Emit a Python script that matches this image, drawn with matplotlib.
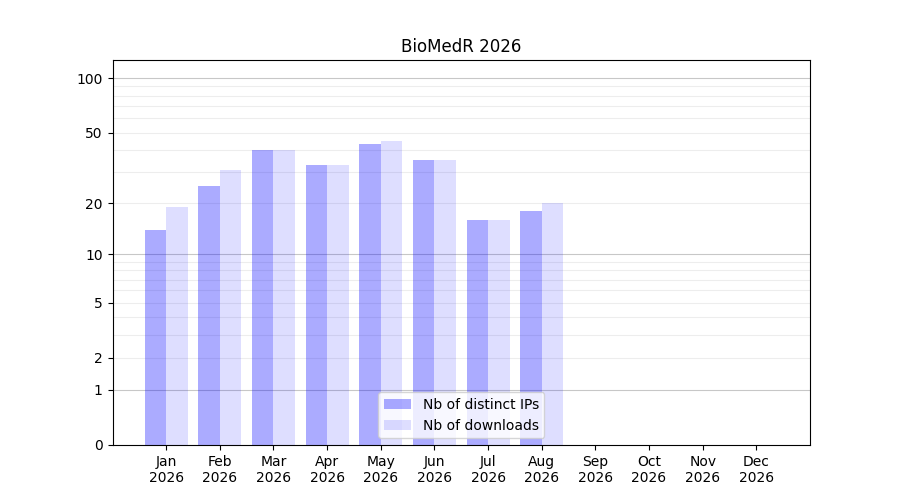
import numpy as np
import matplotlib
matplotlib.use('Agg')
import matplotlib.pyplot as plt

months = ['Jan', 'Feb', 'Mar', 'Apr', 'May', 'Jun', 'Jul', 'Aug', 'Sep', 'Oct', 'Nov', 'Dec']
year = 2026
distinct_ips = [14, 25, 40, 33, 43, 35, 16, 18, 0, 0, 0, 0]
downloads = [19, 31, 40, 33, 45, 35, 16, 20, 0, 0, 0, 0]


def fwd(v):
    return np.log10(1 + np.maximum(v, 0))


def inv(v):
    return 10 ** v - 1


fig, ax = plt.subplots(figsize=(9, 5), dpi=100)
ax.set_yscale('function', functions=(fwd, inv))

x = np.arange(1, len(months) + 1)
ax.bar(x, distinct_ips, width=-0.4, align='edge', color='blue', alpha=0.33,
       label='Nb of distinct IPs', zorder=2)
ax.bar(x, downloads, width=0.4, align='edge', color='blue', alpha=0.13,
       label='Nb of downloads', zorder=2)

# grid: stronger at decades, faint in between
for v in [1, 10, 100]:
    ax.axhline(v, color='black', alpha=0.22, lw=0.8, zorder=1)
for v in list(range(2, 10)) + list(range(20, 100, 10)):
    ax.axhline(v, color='black', alpha=0.07, lw=0.8, zorder=1)

ax.set_ylim(0, 126)
ax.set_yticks([0, 1, 2, 5, 10, 20, 50, 100])
ax.set_yticklabels(['0', '1', '2', '5', '10', '20', '50', '100'])
ax.yaxis.set_minor_locator(matplotlib.ticker.NullLocator())

ax.set_xlim(0, 13)
ax.set_xticks(x)
ax.set_xticklabels([f'{m}\n{year}' for m in months])

ax.set_title(f'BioMedR {year}')
ax.legend(loc='lower center')

fig.savefig('out.png')
